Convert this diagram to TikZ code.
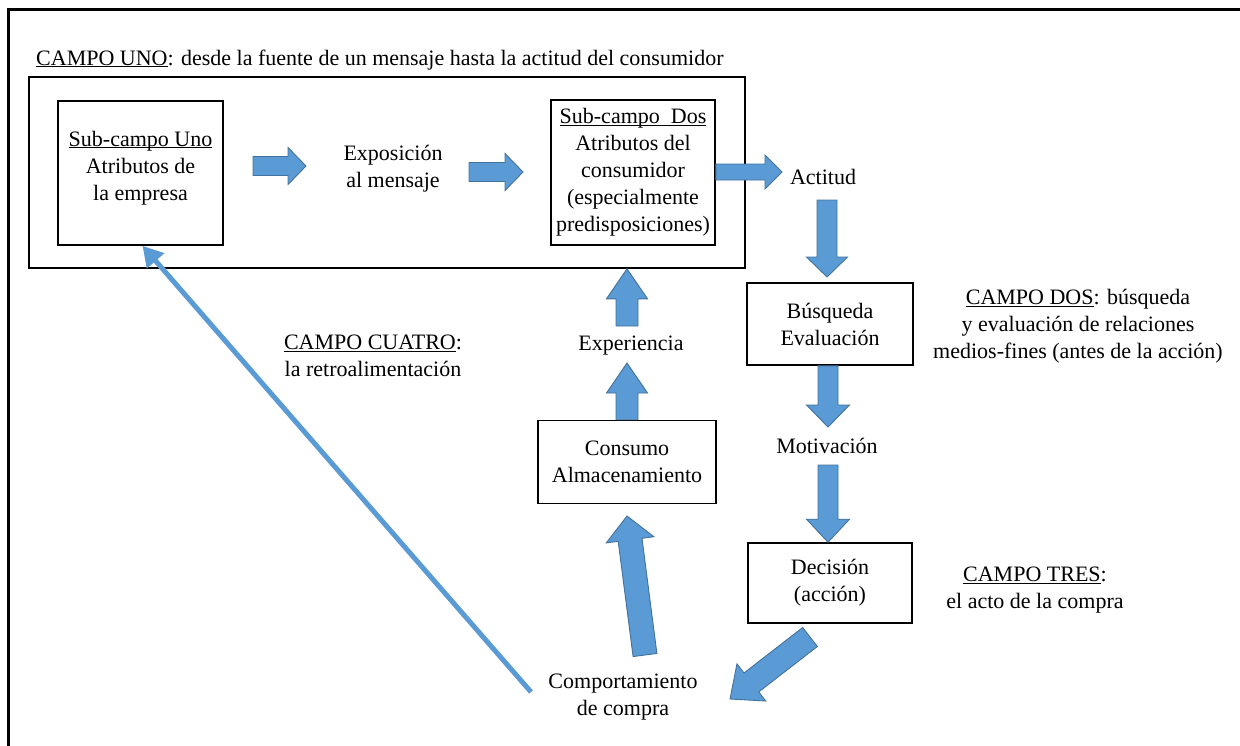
\documentclass[tikz,border=0pt]{standalone}
\usepackage{fontspec}
\setmainfont{Liberation Serif}
\usetikzlibrary{calc,arrows.meta}

\definecolor{arrowfill}{HTML}{5B9BD5}
\definecolor{arrowedge}{HTML}{41719C}

% underline sitting just below the baseline (descenders ignored)
\newcommand\undl[1]{\underline{\raisebox{0pt}[\height][0pt]{#1}}}

% block arrow: tail, tip, shaft width, head width, head length (all in pt)
\newcommand\blockarrow[5]{%
  \path[barrow] let \p1=(#1), \p2=(#2),
    \n1={atan2(\y2-\y1,\x2-\x1)}, \n2={veclen(\x2-\x1,\y2-\y1)} in
    [shift={(\p1)}, rotate=\n1]
    (0pt,{-#3/2*1pt}) -- ({(\n2-#5)*1pt},{-#3/2*1pt}) -- ({(\n2-#5)*1pt},{-#4/2*1pt})
    -- ({\n2*1pt},0pt) -- ({(\n2-#5)*1pt},{#4/2*1pt}) -- ({(\n2-#5)*1pt},{#3/2*1pt})
    -- (0pt,{#3/2*1pt}) -- cycle;
}

\begin{document}
\begin{tikzpicture}[x=1pt,y=-1pt,
  every node/.style={font=\rmfamily\fontsize{22}{27}\selectfont, align=center, inner sep=0pt},
  box/.style={draw, line width=1.6pt},
  barrow/.style={fill=arrowfill, draw=arrowedge, line width=0.9pt, line join=miter},
  thinarrow/.style={draw=arrowfill, line width=5pt, -{Triangle[length=20pt,width=22pt]}}]
\useasboundingbox (0,0) rectangle (1240,745);

% outer frame, running off the right and bottom edges
\draw[line width=3pt] (8,800) -- (8,9) -- (1300,9);

% field one
\node[anchor=base west] (uno) at (36,65) {\undl{CAMPO UNO}: desde la fuente de un mensaje hasta la actitud del consumidor};
\node[box, minimum width=716pt, minimum height=191pt] (campo1) at (387,172.5) {};

\node[box, minimum width=165pt, minimum height=144pt] (sub1) at (140.5,173) {};
\node (sub1t) at (140.5,168) {\undl{Sub-campo Uno}\\Atributos de\\la empresa};
\node (expo) at (393,169) {Exposición\\al mensaje};
\node[box, minimum width=164pt, minimum height=145pt] (sub2) at (633,172.5) {\undl{Sub-campo\ \ Dos}\\Atributos del\\consumidor\\(especialmente\\predisposiciones)};
\node (actitud) at (823,177) {Actitud};

% field two
\node[box, minimum width=166pt, minimum height=82pt] (busq) at (830,324) {Búsqueda\\Evaluación};
\node (dos) at (1078,326) {\undl{CAMPO DOS}: búsqueda\\y evaluación de relaciones\\medios-fines (antes de la acción)};
\node (motiv) at (827,446) {Motivación};

% field three
\node[box, minimum width=164pt, minimum height=80pt] (decis) at (830,583) {Decisión\\(acción)};
\node (tres) at (1035,590) {\undl{CAMPO TRES}:\\el acto de la compra};
\node (comp) at (623,697) {Comportamiento\\de compra};

% field four
\node[box, minimum width=178pt, minimum height=83pt] (consumo) at (627,462) {Consumo\\Almacenamiento};
\node (exper) at (631,346) {Experiencia};
\node (cuatro) at (373,356) {\undl{CAMPO CUATRO}:\\la retroalimentación};

% arrow end points
\coordinate (a1s) at (253,166);  \coordinate (a1e) at (306,166);
\coordinate (a2s) at (469,172);  \coordinate (a2e) at (523,172);
\coordinate (a3e) at (782,172);
\coordinate (a4s) at (827,200);  \coordinate (a4e) at (827,277);
\coordinate (a5e) at (828,427);
\coordinate (a6s) at (828,465);
\coordinate (a7s) at (810,637);  \coordinate (a7e) at (730,699);
\coordinate (a8s) at (645,655);  \coordinate (a8e) at (627,516);
\coordinate (a9e) at (627,363);
\coordinate (a10s) at (627,326);
\coordinate (fb) at (531,692);

% block arrows
\blockarrow{a1s}{a1e}{19}{37}{18}
\blockarrow{a2s}{a2e}{19}{37}{18}
\blockarrow{sub2.east |- a2s}{a3e}{16}{34}{17}
\blockarrow{a4s}{a4e}{20}{41}{20}
\blockarrow{busq.south -| a5e}{a5e}{20}{43}{22}
\blockarrow{a6s}{decis.north -| a6s}{20}{43}{23}
\blockarrow{a7s}{a7e}{24}{47}{27}
\blockarrow{a8s}{a8e}{24}{48}{24}
\blockarrow{consumo.north}{a9e}{22}{41}{30}
\blockarrow{a10s}{campo1.south -| a10s}{22}{41}{30}

% feedback arrow
\draw[thinarrow] (fb) -- ([xshift=2pt]sub1.south);
\end{tikzpicture}
\end{document}
